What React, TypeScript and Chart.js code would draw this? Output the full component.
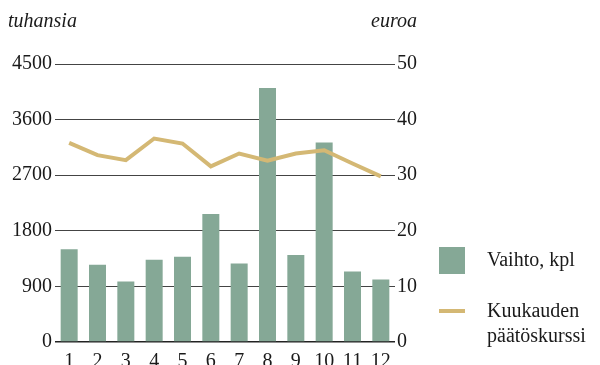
import React, { useEffect, useRef } from "react";
import { Chart, registerables } from "chart.js";

Chart.register(...registerables);

const months = ["1", "2", "3", "4", "5", "6", "7", "8", "9", "10", "11", "12"];
const volume = [1500, 1250, 980, 1330, 1380, 2070, 1270, 4110, 1410, 3230, 1140, 1010];
const price = [35.8, 33.6, 32.7, 36.6, 35.7, 31.6, 33.9, 32.6, 33.9, 34.5, 32.1, 29.8];
const leftTitle = "tuhansia";
const rightTitle = "euroa";
const volumeLabel = "Vaihto, kpl";
const priceLabel = ["Kuukauden", "päätöskurssi"];

const FONT = '"Liberation Serif", "Times New Roman", serif';
const TEXT = "#1a1a1a";
const BAR = "#85a896";
const LINE = "#d4b874";

export default function App() {
  const ref = useRef<HTMLCanvasElement | null>(null);

  useEffect(() => {
    document.body.style.margin = "0";
    const canvas = ref.current;
    if (!canvas) return;

    const overlay = {
      id: "overlay",
      beforeDraw(chart: any) {
        const ctx = chart.ctx;
        ctx.save();
        ctx.fillStyle = "#ffffff";
        ctx.fillRect(0, 0, chart.width, chart.height);
        ctx.restore();
      },
      afterDraw(chart: any) {
        const ctx = chart.ctx;
        ctx.save();
        ctx.fillStyle = TEXT;
        ctx.textBaseline = "middle";
        ctx.font = `italic 20px ${FONT}`;
        ctx.textAlign = "left";
        ctx.fillText(leftTitle, 8, 22);
        ctx.textAlign = "right";
        ctx.fillText(rightTitle, 417, 22);

        const lx = 439;
        ctx.fillStyle = BAR;
        ctx.fillRect(lx, 247, 26, 27);
        ctx.strokeStyle = LINE;
        ctx.lineWidth = 4;
        ctx.beginPath();
        ctx.moveTo(lx, 311);
        ctx.lineTo(lx + 26, 311);
        ctx.stroke();
        ctx.fillStyle = TEXT;
        ctx.font = `20px ${FONT}`;
        ctx.textAlign = "left";
        ctx.fillText(volumeLabel, 487, 261);
        ctx.fillText(priceLabel[0], 487, 312);
        ctx.fillText(priceLabel[1], 487, 337);
        ctx.restore();
      },
    };

    const chart = new Chart(canvas, {
      type: "bar",
      data: {
        labels: months,
        datasets: [
          {
            type: "line",
            label: priceLabel.join(" "),
            data: price,
            yAxisID: "y1",
            borderColor: LINE,
            backgroundColor: LINE,
            borderWidth: 4,
            pointRadius: 0,
            tension: 0,
            order: 0,
          } as any,
          {
            type: "bar",
            label: volumeLabel,
            data: volume,
            yAxisID: "y",
            backgroundColor: BAR,
            categoryPercentage: 1,
            barPercentage: 0.6,
            order: 1,
          },
        ],
      },
      plugins: [overlay],
      options: {
        responsive: false,
        animation: false,
        layout: { padding: { top: 64, left: 0, right: 0, bottom: 0 } },
        plugins: {
          legend: { display: false },
          tooltip: { enabled: false },
          title: { display: false },
        },
        scales: {
          x: {
            grid: { display: false },
            border: { display: false },
            ticks: { color: TEXT, font: { family: FONT, size: 20 }, padding: 0, maxRotation: 0, autoSkip: false },
            afterFit(scale: any) {
              scale.height = 23;
            },
          },
          y: {
            position: "left",
            min: 0,
            max: 4500,
            border: { display: false },
            grid: {
              drawTicks: false,
              color: (c: any) => (c.tick && c.tick.value === 0 ? "#222" : "#444"),
              lineWidth: (c: any) => (c.tick && c.tick.value === 0 ? 1.5 : 1),
            },
            ticks: {
              stepSize: 900,
              color: TEXT,
              font: { family: FONT, size: 20 },
              padding: 3,
              callback: (v: any) => String(v),
            },
            afterFit(scale: any) {
              scale.width = 55;
            },
          },
          y1: {
            position: "right",
            min: 0,
            max: 50,
            border: { display: false },
            grid: { display: false, drawTicks: false },
            ticks: {
              stepSize: 10,
              color: TEXT,
              font: { family: FONT, size: 20 },
              padding: 2,
              callback: (v: any) => String(v),
            },
            afterFit(scale: any) {
              scale.width = 205;
            },
          },
        },
      } as any,
    });
    return () => chart.destroy();
  }, []);

  return (
    <div style={{ position: "absolute", left: 0, top: 0, width: 600, height: 365 }}>
      <canvas ref={ref} width={600} height={365} style={{ width: 600, height: 365 }} />
    </div>
  );
}
